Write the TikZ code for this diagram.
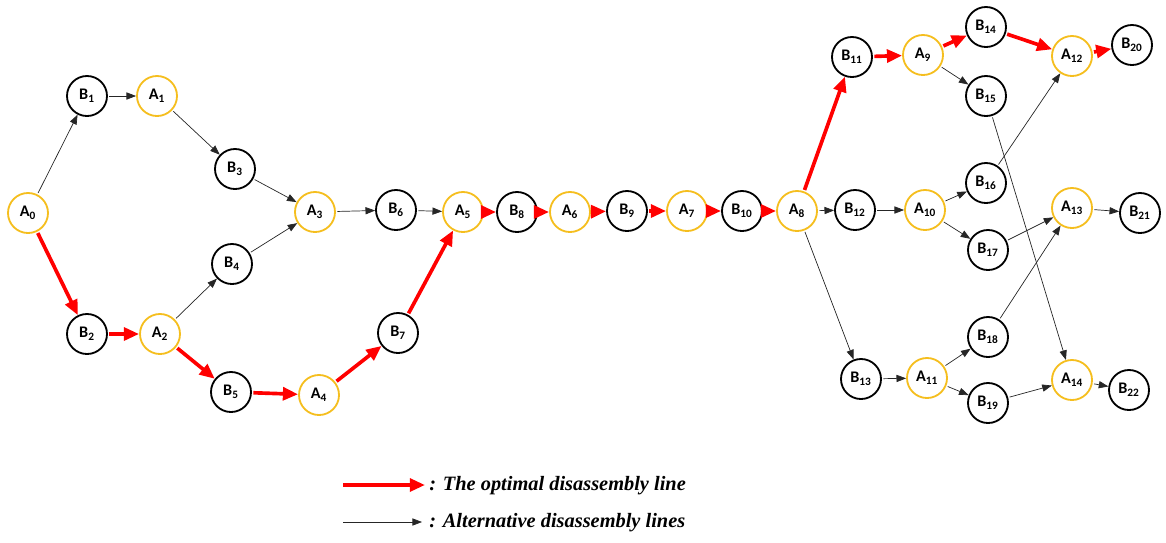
\documentclass[tikz,border=0pt]{standalone}
\usepackage{fontspec}
\setmainfont{Carlito}
\newfontfamily\legendfont{Liberation Serif}
\usetikzlibrary{arrows.meta}
\definecolor{gold}{RGB}{245,190,30}
\newcommand{\lab}[2]{\textbf{#1}\textsubscript{\textbf{#2}}}
\begin{document}
\begin{tikzpicture}[x=0.025cm, y=-0.025cm,
    st/.style={circle, draw=#1, line width=1.3pt, minimum size=1cm, inner sep=0pt, font=\fontsize{11.5}{13}\selectfont},
    st/.default=black,
    opt/.style={-{Triangle[length=0.38cm, width=0.32cm]}, red, line width=2.6pt, shorten <=1pt},
    alt/.style={-{Triangle[length=0.24cm, width=0.18cm]}, black!85, line width=0.5pt, shorten <=1pt}
]
\useasboundingbox (0,0) rectangle (1166,542);

% Left part
\node[st=gold] (A0) at (28,213) {\lab{A}{0}};
\node[st] (B1) at (87,96) {\lab{B}{1}};
\node[st=gold] (A1) at (157,96) {\lab{A}{1}};
\node[st] (B3) at (235,169) {\lab{B}{3}};
\node[st] (B4) at (232,264) {\lab{B}{4}};
\node[st] (B2) at (87,334) {\lab{B}{2}};
\node[st=gold] (A2) at (160,334) {\lab{A}{2}};
\node[st] (B5) at (231,392) {\lab{B}{5}};
\node[st=gold] (A4) at (319,395) {\lab{A}{4}};
\node[st] (B7) at (398,333) {\lab{B}{7}};
\node[st=gold] (A3) at (315,212) {\lab{A}{3}};
\node[st] (B6) at (396,210) {\lab{B}{6}};

% Middle chain
\node[st=gold] (A5) at (463,212) {\lab{A}{5}};
\node[st] (B8) at (517,212) {\lab{B}{8}};
\node[st=gold] (A6) at (570,212) {\lab{A}{6}};
\node[st] (B9) at (627,211) {\lab{B}{9}};
\node[st=gold] (A7) at (687,211) {\lab{A}{7}};
\node[st] (B10) at (742,211) {\lab{B}{10}};
\node[st=gold] (A8) at (797,211) {\lab{A}{8}};

% Right part
\node[st] (B11) at (852,57) {\lab{B}{11}};
\node[st=gold] (A9) at (923,55) {\lab{A}{9}};
\node[st] (B14) at (986,27) {\lab{B}{14}};
\node[st] (B15) at (986,96) {\lab{B}{15}};
\node[st=gold] (A12) at (1072,56) {\lab{A}{12}};
\node[st] (B20) at (1132,45) {\lab{B}{20}};
\node[st] (B12) at (855,210) {\lab{B}{12}};
\node[st=gold] (A10) at (925,210) {\lab{A}{10}};
\node[st] (B16) at (986,183) {\lab{B}{16}};
\node[st] (B17) at (988,250) {\lab{B}{17}};
\node[st=gold] (A13) at (1072,208) {\lab{A}{13}};
\node[st] (B21) at (1140,213) {\lab{B}{21}};
\node[st] (B13) at (861,379) {\lab{B}{13}};
\node[st=gold] (A11) at (927,378) {\lab{A}{11}};
\node[st] (B18) at (988,337) {\lab{B}{18}};
\node[st] (B19) at (988,403) {\lab{B}{19}};
\node[st=gold] (A14) at (1072,380) {\lab{A}{14}};
\node[st] (B22) at (1129,390) {\lab{B}{22}};

% Alternative lines
\draw[alt] (A0) -- (B1);
\draw[alt] (B1) -- (A1);
\draw[alt] (A1) -- (B3);
\draw[alt] (B3) -- (A3);
\draw[alt] (A2) -- (B4);
\draw[alt] (B4) -- (A3);
\draw[alt] (A3) -- (B6);
\draw[alt] (B6) -- (A5);
\draw[alt] (A8) -- (B12);
\draw[alt] (B12) -- (A10);
\draw[alt] (A8) -- (B13);
\draw[alt] (B13) -- (A11);
\draw[alt] (A9) -- (B15);
\draw[alt] (A10) -- (B16);
\draw[alt] (A10) -- (B17);
\draw[alt] (B16) -- (A12);
\draw[alt] (B17) -- (A13);
\draw[alt] (B18) -- (A13);
\draw[alt] (B15) -- (A14);
\draw[alt] (A11) -- (B18);
\draw[alt] (A11) -- (B19);
\draw[alt] (B19) -- (A14);
\draw[alt] (A13) -- (B21);
\draw[alt] (A14) -- (B22);

% Optimal line
\draw[opt] (A0) -- (B2);
\draw[opt] (B2) -- (A2);
\draw[opt] (A2) -- (B5);
\draw[opt] (B5) -- (A4);
\draw[opt] (A4) -- (B7);
\draw[opt] (B7) -- (A5);
\draw[opt] (A5) -- (B8);
\draw[opt] (B8) -- (A6);
\draw[opt] (A6) -- (B9);
\draw[opt] (B9) -- (A7);
\draw[opt] (A7) -- (B10);
\draw[opt] (B10) -- (A8);
\draw[opt] (A8) -- (B11);
\draw[opt] (B11) -- (A9);
\draw[opt] (A9) -- (B14);
\draw[opt] (B14) -- (A12);
\draw[opt] (A12) -- (B20);

% Legend
\coordinate (optS) at (343,485);
\coordinate (optE) at (425,485);
\coordinate (altS) at (343,522);
\coordinate (altE) at (422,522);
\draw[opt, shorten <=0pt] (optS) -- (optE);
\draw[alt, shorten <=0pt] (altS) -- (altE);
\node[anchor=west, inner sep=0pt, font=\legendfont\fontsize{14.5}{17}\selectfont\bfseries\itshape] (optT) at (429,486) {: The optimal disassembly line};
\node[anchor=west, inner sep=0pt, font=\legendfont\fontsize{14.5}{17}\selectfont\bfseries\itshape] (altT) at (429,523) {: Alternative disassembly lines};
\end{tikzpicture}
\end{document}
